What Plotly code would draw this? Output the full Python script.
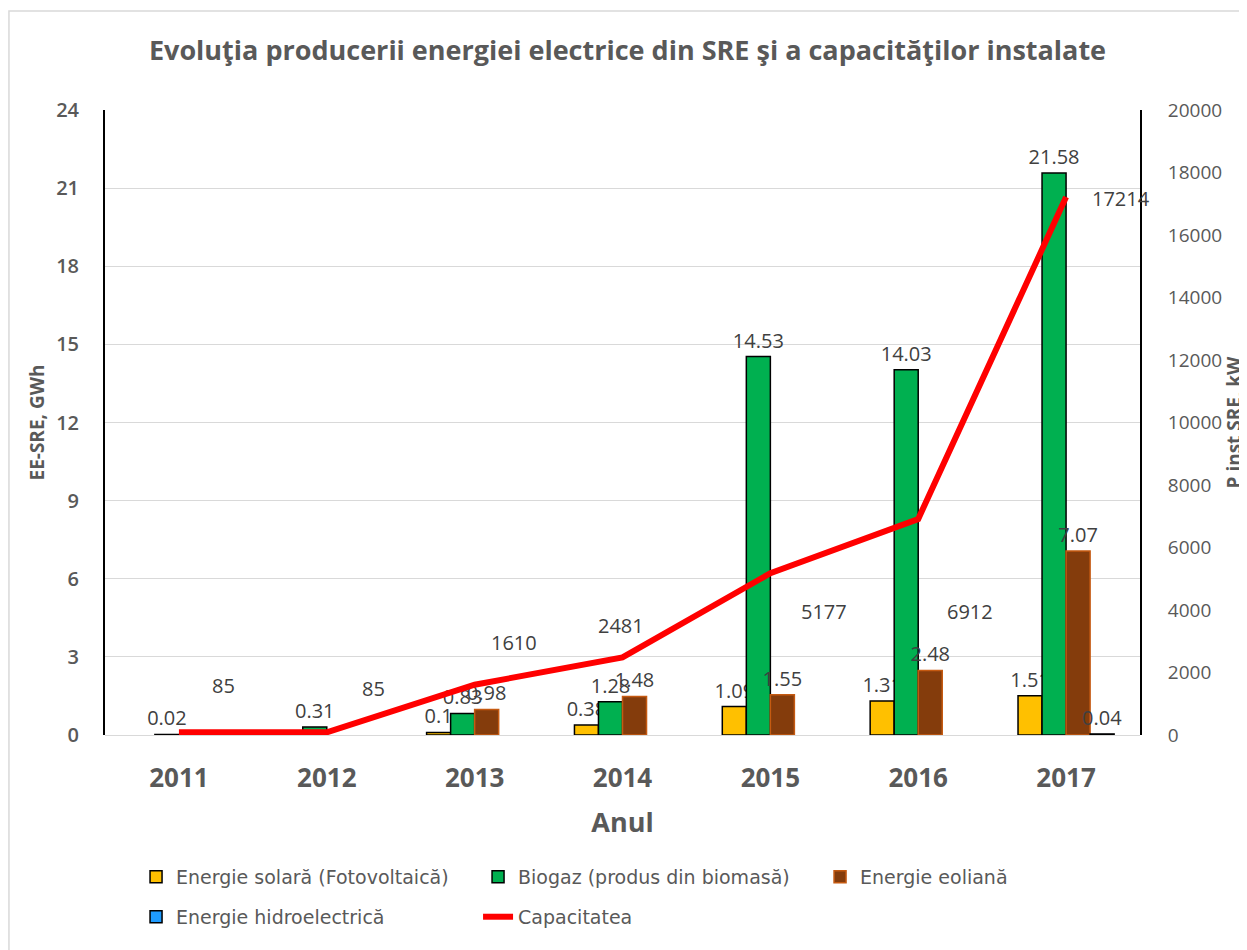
import plotly.graph_objects as go

years = ["2011", "2012", "2013", "2014", "2015", "2016", "2017"]
solar = [None, None, 0.1, 0.38, 1.09, 1.31, 1.51]
biogas = [0.02, 0.31, 0.83, 1.28, 14.53, 14.03, 21.58]
wind = [None, None, 0.98, 1.48, 1.55, 2.48, 7.07]
hydro = [None, None, None, None, None, None, 0.04]
capacity = [85, 85, 1610, 2481, 5177, 6912, 17214]

# label offsets (px) for the capacity labels, style only
cap_dx = [45, 47, 39, -2, 54, 52, 55]
cap_dy = [47, 44, 42, 32, -38, -92, -1]

FONT = "Open Sans"
GRAY = "#595959"
LBL = "#404040"

def txt(vals):
    return ["" if v is None else f"{v:g}" for v in vals]

fig = go.Figure()
series = [
    ("Energie solară (Fotovoltaică)", solar, "#FFC000", "#000000"),
    ("Biogaz (produs din biomasă)", biogas, "#00B050", "#000000"),
    ("Energie eoliană", wind, "#843C0C", "#C55A11"),
    ("Energie hidroelectrică", hydro, "#1E9BFF", "#000000"),
]
for i, (name, vals, col, edge) in enumerate(series):
    fig.add_trace(go.Bar(
        x=years, y=vals, name=name,
        marker=dict(color=col, line=dict(color=edge, width=1.5)),
        text=txt(vals), textposition="outside", cliponaxis=False,
        constraintext="none",
        textfont=dict(family=FONT, size=20, color=LBL),
        legend="legend" if i < 3 else "legend2",
    ))

fig.add_trace(go.Scatter(
    x=years, y=capacity, name="Capacitatea", yaxis="y2",
    mode="lines", line=dict(color="#FF0000", width=6),
    legend="legend2",
))

for i, (v, dx, dy) in enumerate(zip(capacity, cap_dx, cap_dy)):
    fig.add_annotation(x=i, y=v, xref="x", yref="y2", text=str(v),
                       showarrow=False, xshift=dx, yshift=dy,
                       font=dict(family=FONT, size=20, color=LBL))

fig.update_layout(
    width=1239, height=942,
    margin=dict(l=97, r=107, t=102, b=215),
    paper_bgcolor="white", plot_bgcolor="white",
    barmode="group", bargap=0.35, bargroupgap=0,
    title=dict(text="<b>Evoluţia producerii energiei electrice din SRE şi a capacităţilor instalate</b>",
               x=0.5, xanchor="center", y=0.955, yanchor="middle",
               font=dict(family=FONT, size=27, color=GRAY)),
    font=dict(family=FONT, color=GRAY),
    xaxis=dict(
        type="category", range=[-0.5, 6.5],
        title=dict(text="<b>Anul</b>", font=dict(family=FONT, size=27, color=GRAY), standoff=18),
        ticks="outside", ticklen=20, tickcolor="rgba(0,0,0,0)",
        showline=False, showgrid=False, automargin=False,
    ),
    yaxis=dict(
        range=[0, 24], dtick=3, tick0=0, automargin=False,
        title=dict(text="<b>EE-SRE, GWh</b>", font=dict(family=FONT, size=19, color=GRAY), standoff=6),
        tickfont=dict(family=FONT, size=20, color=GRAY, weight=600),
        ticks="outside", ticklen=20, tickcolor="rgba(0,0,0,0)",
        showline=True, linecolor="#000000", linewidth=2,
        showgrid=True, gridcolor="#D9D9D9", gridwidth=1,
        zeroline=True, zerolinecolor="#D9D9D9", zerolinewidth=1,
    ),
    yaxis2=dict(
        range=[0, 20000], dtick=2000, tick0=0, overlaying="y", side="right",
        tickformat="d", automargin=False,
        title=dict(text="<b>P inst SRE, kW</b>", font=dict(family=FONT, size=19, color=GRAY), standoff=10),
        tickfont=dict(family=FONT, size=19, color=GRAY),
        ticks="outside", ticklen=22, tickcolor="rgba(0,0,0,0)",
        showline=True, linecolor="#000000", linewidth=2,
        showgrid=False, zeroline=False,
    ),
    legend=dict(orientation="h", x=0.03, xanchor="left", y=-0.227, yanchor="middle",
                entrywidth=297, entrywidthmode="pixels",
                font=dict(family="DejaVu Sans", size=19, color=GRAY), itemclick=False),
    legend2=dict(orientation="h", x=0.03, xanchor="left", y=-0.291, yanchor="middle",
                 entrywidth=297, entrywidthmode="pixels",
                 font=dict(family="DejaVu Sans", size=19, color=GRAY), itemclick=False),
    showlegend=True,
)
fig.update_xaxes(tickfont=dict(family=FONT, size=26, color=GRAY, weight="bold"))

fig.add_shape(type="rect", xref="paper", yref="paper",
              x0=-0.0928, x1=1.3, y0=-0.6, y1=1.1584,
              line=dict(color="#D9D9D9", width=1.5))

fig.write_html("out.html")
